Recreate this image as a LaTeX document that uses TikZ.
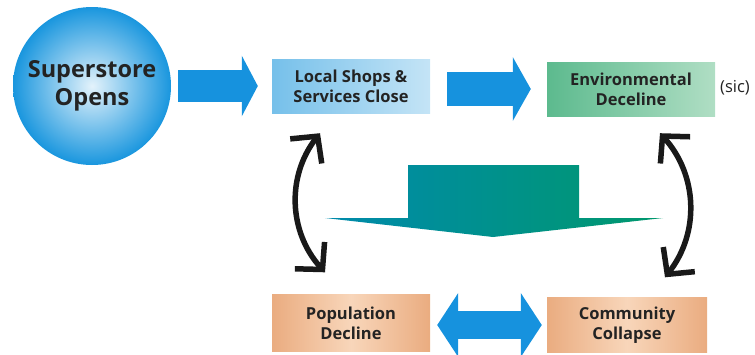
\documentclass[tikz,border=0pt]{standalone}
\usepackage{fontspec}
\setmainfont{Open Sans}
\usetikzlibrary{arrows.meta,positioning}
\definecolor{inkdark}{RGB}{35,35,35}
\definecolor{fatblue}{RGB}{22,146,222}
\definecolor{ballblue}{RGB}{25,150,222}
\definecolor{shopsL}{RGB}{118,192,234}
\definecolor{shopsR}{RGB}{196,228,246}
\definecolor{envL}{RGB}{92,186,142}
\definecolor{envR}{RGB}{176,222,196}
\definecolor{peachL}{RGB}{234,172,128}
\definecolor{peachM}{RGB}{248,214,186}
\definecolor{tealL}{RGB}{0,138,172}
\definecolor{tealR}{RGB}{0,152,108}
\tikzset{
	box/.style={rectangle,minimum width=158pt,minimum height=54pt,align=center,
		text=inkdark,font=\bfseries\fontsize{16.5}{20}\selectfont},
	shopsbox/.style={box,left color=shopsL,right color=shopsR},
	envbox/.style={box,left color=envL,right color=envR},
	peachbox/.style={box,left color=peachL,right color=peachL,middle color=peachM},
	fat/.style={draw=fatblue,line width=#1},
	curly/.style={draw=black!90,line width=5.5pt,
		{Straight Barb[length=19pt,width=40pt]}-{Straight Barb[length=19pt,width=40pt]}}
}
\begin{document}
\begin{tikzpicture}[x=1pt,y=-1pt]
	\useasboundingbox (0,0) rectangle (755,354);
	\node[circle,minimum size=158pt,inner color=ballblue!12,outer color=ballblue,text=inkdark,
		align=center,font=\bfseries\fontsize{23.5}{28}\selectfont] (sup) at (92,86) {Superstore\\Opens};
	\node[shopsbox] (shops) at (351,86) {Local Shops \&\\Services Close};
	\node[envbox,minimum width=168pt] (env) at (631,89) {Environmental\\Deceline};
	\node[text=inkdark,font=\fontsize{16.5}{18}\selectfont] (sic) at (735,88) {(sic)};
	\node[peachbox,minimum height=57pt] (pop) at (351,323) {Population\\Decline};
	\node[peachbox,minimum width=160pt,minimum height=55pt] (comm) at (627,325) {Community\\Collapse};
	
	\draw[fat=32pt,-{Triangle[length=16pt,width=60pt]},shorten <=7pt,shorten >=14pt] (sup) -- (shops);
	\draw[fat=34pt,-{Triangle[length=18pt,width=63pt]},shorten <=17pt,shorten >=16pt] (shops.east |- env) -- (env);
	\draw[fat=28pt,{Triangle[length=21pt,width=63pt]}-{Triangle[length=21pt,width=63pt]},
		shorten <=7pt,shorten >=5pt] (pop.east |- comm) -- (comm);
	
	\shade[left color=tealL,right color=tealR] (408,165) -- (579,165) -- (579,218) -- (663,218)
		-- (493,237) -- (325,218) -- (408,218) -- cycle;
	
	\draw[curly] ([xshift=-31pt,yshift=-20pt]shops.south) to[bend right=40] ([xshift=-26pt,yshift=22pt]pop.north);
	\draw[curly] ([xshift=29pt,yshift=-17pt]env.south) to[bend left=40] ([xshift=38pt,yshift=20pt]comm.north);
\end{tikzpicture}
\end{document}
